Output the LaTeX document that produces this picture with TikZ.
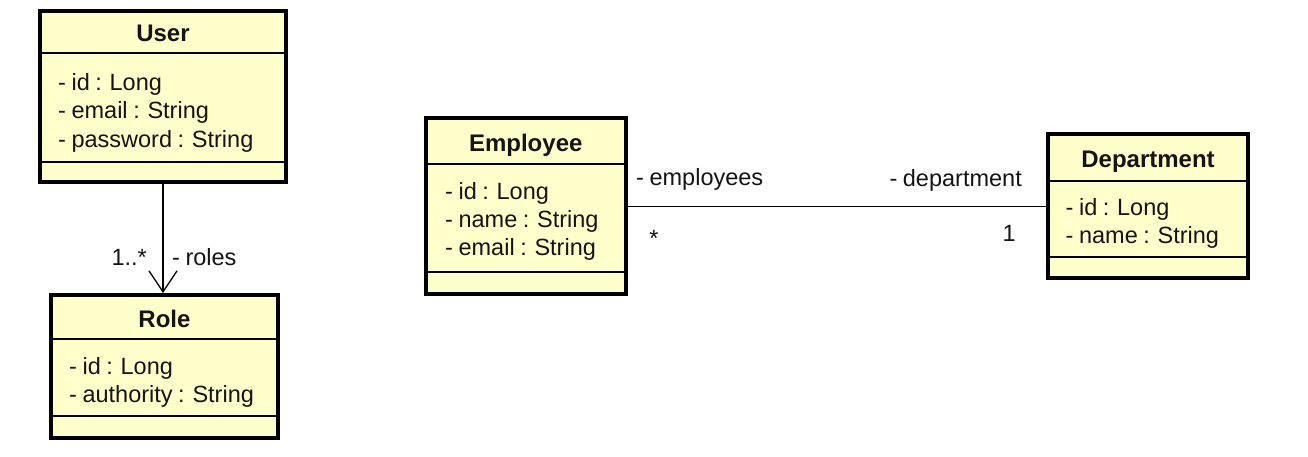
\documentclass[tikz,border=0pt]{standalone}
\usepackage{fontspec}
\setmainfont{Liberation Sans}[WordSpace=0.85]
\usetikzlibrary{arrows.meta}
\definecolor{classfill}{RGB}{255,255,204}
\definecolor{txt}{RGB}{20,20,20}
\tikzset{
  classbox/.style={draw=black, fill=classfill, line width=4pt, rectangle, inner sep=0pt},
  sepline/.style={draw=black, line width=1.2pt},
  title/.style={anchor=base, inner sep=0pt, font=\fontsize{24}{29}\selectfont\bfseries, text=txt},
  attr/.style={anchor=base west, inner sep=0pt, font=\fontsize{23.5}{29}\selectfont, text=txt},
  lbl/.style={inner sep=0pt, font=\fontsize{23.5}{29}\selectfont, text=txt},
  assoc/.style={draw=black, line width=1.3pt},
}
\begin{document}
\begin{tikzpicture}[x=1pt,y=-1pt]
\useasboundingbox (0,0) rectangle (1308,456);

% User
\node[classbox, minimum width=246pt, minimum height=171pt] (user) at (163,96.5) {};
\draw[sepline] (user.west |- 0,53) -- (user.east |- 0,53);
\draw[sepline] (user.west |- 0,162) -- (user.east |- 0,162);
\node[title] (userT) at (163,41) {User};
\node[attr] (userA1) at (58,90) {- id : Long};
\node[attr] (userA2) at (58,118.5) {- email : String};
\node[attr] (userA3) at (58,147) {- password : String};

% Role
\node[classbox, minimum width=227pt, minimum height=143pt] (role) at (164.5,366.5) {};
\draw[sepline] (role.west |- 0,339) -- (role.east |- 0,339);
\draw[sepline] (role.west |- 0,416) -- (role.east |- 0,416);
\node[title] (roleT) at (164.5,327) {Role};
\node[attr] (roleA1) at (69,374) {- id : Long};
\node[attr] (roleA2) at (69,402.5) {- authority : String};

% Employee
\node[classbox, minimum width=200.5pt, minimum height=176.5pt] (emp) at (525.75,205.75) {};
\draw[sepline] (emp.west |- 0,164) -- (emp.east |- 0,164);
\draw[sepline] (emp.west |- 0,272) -- (emp.east |- 0,272);
\node[title] (empT) at (525.75,151) {Employee};
\node[attr] (empA1) at (445,199) {- id : Long};
\node[attr] (empA2) at (445,227.5) {- name : String};
\node[attr] (empA3) at (445,255.5) {- email : String};

% Department
\node[classbox, minimum width=200pt, minimum height=144pt] (dept) at (1148,206) {};
\draw[sepline] (dept.west |- 0,181) -- (dept.east |- 0,181);
\draw[sepline] (dept.west |- 0,257) -- (dept.east |- 0,257);
\node[title] (deptT) at (1148,167) {Department};
\node[attr] (deptA1) at (1065.5,215) {- id : Long};
\node[attr] (deptA2) at (1065.5,243.5) {- name : String};

% User -> Role
\draw[assoc, -{Straight Barb[length=21pt,width=28pt]}] (user.south) -- (user.south |- role.north);
\node[lbl, anchor=base east] (mult1) at (147,265) {1..*};
\node[lbl, anchor=base west] (rolesL) at (172,265) {- roles};

% Employee -- Department
\draw[assoc] (emp.east |- 0,206.5) -- (dept.west |- 0,206.5);
\node[lbl, anchor=base west] (empL) at (636,185.5) {- employees};
\node[lbl, anchor=center] (empM) at (654,238) {*};
\node[lbl, anchor=base east] (deptL) at (1022,186.5) {- department};
\node[lbl, anchor=base east] (deptM) at (1016,241.5) {1};
\end{tikzpicture}
\end{document}
